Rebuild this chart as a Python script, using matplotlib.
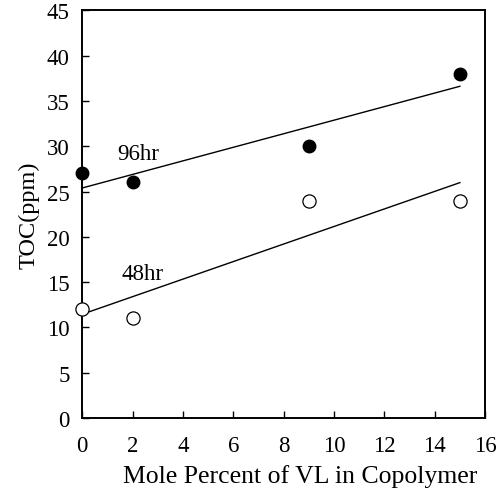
import numpy as np
import matplotlib
matplotlib.use("Agg")
import matplotlib.pyplot as plt

plt.rcParams['font.family'] = ['Liberation Serif', 'DejaVu Serif']

mole_pct = [0, 2, 9, 15]
toc_96hr = [27, 26, 30, 38]
toc_48hr = [12, 11, 24, 24]
x_ticks = [0, 2, 4, 6, 8, 10, 12, 14, 16]
y_ticks = [0, 5, 10, 15, 20, 25, 30, 35, 40, 45]

fig = plt.figure(figsize=(4.98, 4.89), dpi=100)
ax = fig.add_axes([0.165, 0.143, 0.809, 0.834])

xs = np.array(mole_pct, dtype=float)
for y in (toc_96hr, toc_48hr):
    m, b = np.polyfit(xs, np.array(y, dtype=float), 1)
    xf = np.array([xs.min(), xs.max()])
    ax.plot(xf, m * xf + b, color='black', lw=1.0, zorder=2)

ax.plot(mole_pct, toc_96hr, 'o', color='black', ms=9, zorder=3, clip_on=False)
ax.plot(mole_pct, toc_48hr, 'o', mfc='white', mec='black', mew=0.9, ms=9.5, zorder=3, clip_on=False)

ax.text(1.38, 29.2, '96hr', fontsize=16.5, ha='left', va='center')
ax.text(1.55, 16.0, '48hr', fontsize=16.5, ha='left', va='center')

ax.set_xlim(0, 16)
ax.set_ylim(0, 45)
ax.set_xticks(x_ticks)
ax.set_yticks(y_ticks)
ax.tick_params(direction='in', length=5, width=1.0, labelsize=16.5)
ax.tick_params(axis='x', pad=12)
ax.tick_params(axis='y', pad=9)
for s in ax.spines.values():
    s.set_linewidth(1.4)

ax.set_xlabel('Mole Percent of VL in Copolymer', fontsize=18.5)
ax.xaxis.set_label_coords(0.54, -0.112)
ax.set_ylabel('TOC(ppm)', fontsize=17.5, labelpad=5)

fig.savefig('out.png', dpi=100)
